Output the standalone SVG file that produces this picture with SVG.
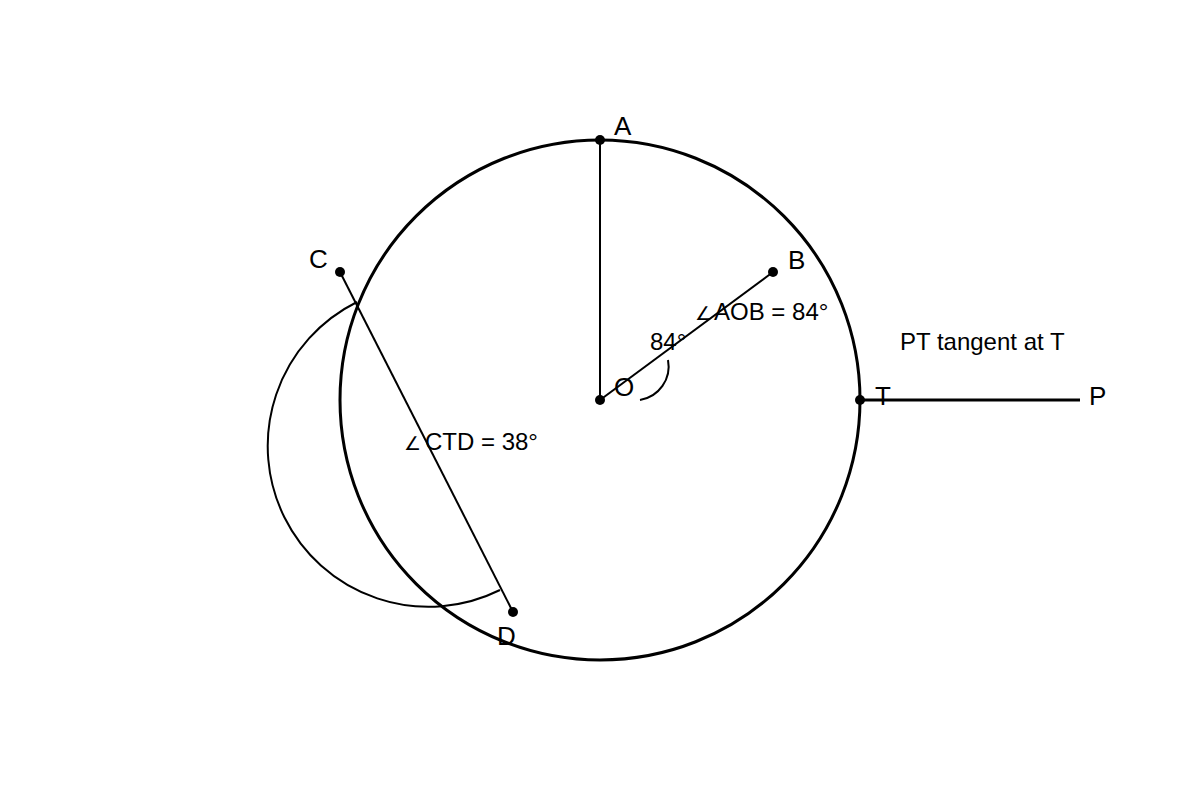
<svg xmlns="http://www.w3.org/2000/svg" width="1200" height="800" viewBox="0 0 1200 800">
<style>
.lbl{font-family:"Liberation Sans",Arial,sans-serif;font-size:26px;fill:#000}
.ann{font-family:"Liberation Sans",Arial,sans-serif;font-size:24px;fill:#000}
.ang{font-size:19px}
.ln{stroke:#000;fill:none}
.dot{fill:#000}
</style>
<rect width="1200" height="800" fill="#fff"/>
<g id="circle"><circle cx="600" cy="400" r="260" class="ln" stroke-width="3"/></g>
<g id="connectors">
<line x1="600" y1="400" x2="600" y2="140" class="ln" stroke-width="2"/>
<line x1="600" y1="400" x2="773" y2="272" class="ln" stroke-width="2"/>
<line x1="340" y1="272" x2="513" y2="612" class="ln" stroke-width="2"/>
<line x1="860" y1="400" x2="1080" y2="400" class="ln" stroke-width="3"/>
<path d="M668,360 A34,34 0 0 1 640,400" class="ln" stroke-width="2"/>
<path d="M357,302 A1,1 0 0 0 500,590" class="ln" stroke-width="2"/>
</g>
<g id="A"><circle cx="600" cy="140" r="5" class="dot"/><text x="614" y="135" class="lbl">A</text></g>
<g id="B"><circle cx="773" cy="272" r="5" class="dot"/><text x="788" y="269" class="lbl">B</text></g>
<g id="C"><circle cx="340" cy="272" r="5" class="dot"/><text x="309" y="268" class="lbl">C</text></g>
<g id="D"><circle cx="513" cy="612" r="5" class="dot"/><text x="497" y="645" class="lbl">D</text></g>
<g id="O"><circle cx="600" cy="400" r="5" class="dot"/><text x="614" y="396" class="lbl">O</text></g>
<g id="T"><circle cx="860" cy="400" r="5" class="dot"/><text x="875" y="405" class="lbl">T</text></g>
<g id="P"><text x="1089" y="405" class="lbl">P</text></g>
<g id="labels">
<text x="695" y="320" class="ann"><tspan class="ang">∠</tspan><tspan dx="2">AOB = 84°</tspan></text>
<text x="650" y="350" class="ann">84°</text>
<text x="404" y="450" class="ann"><tspan class="ang">∠</tspan><tspan dx="4">CTD = 38°</tspan></text>
<text x="900" y="350" class="ann">PT tangent at T</text>
</g>
</svg>
